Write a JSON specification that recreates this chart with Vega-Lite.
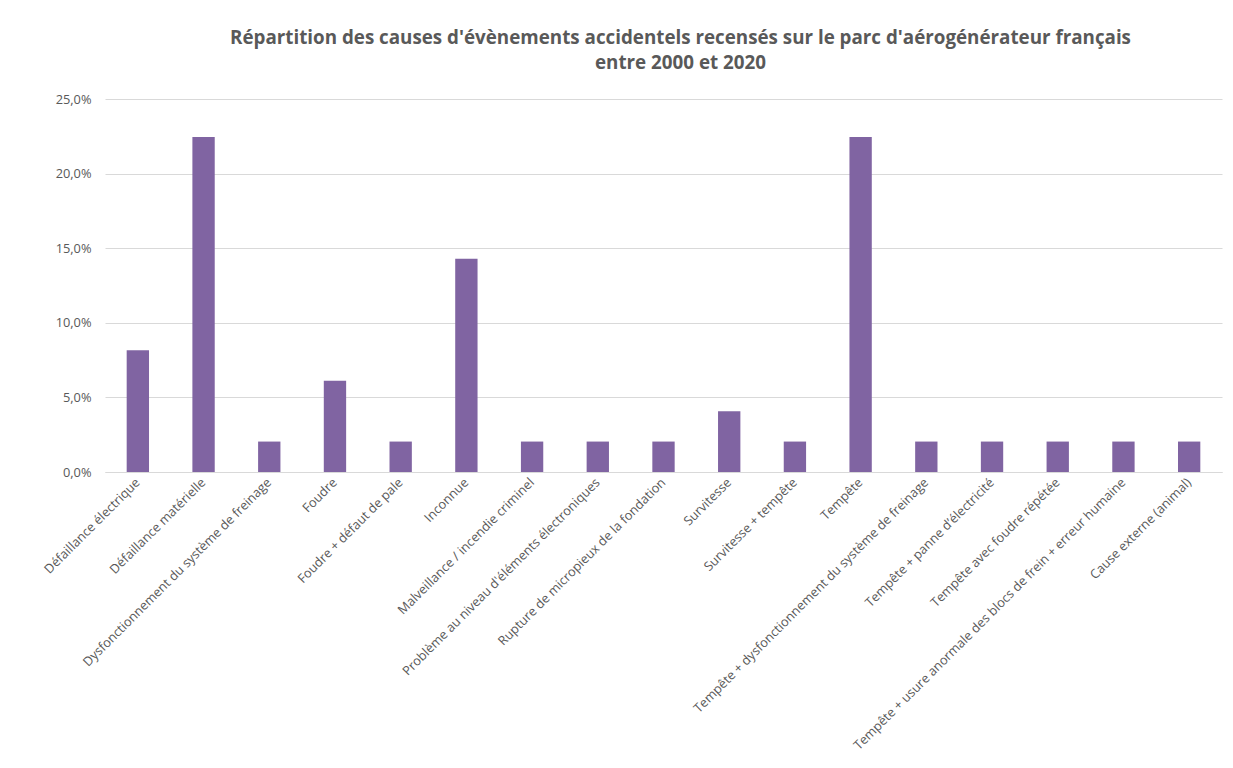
{
  "$schema": "https://vega.github.io/schema/vega-lite/v6.json",
  "autosize": {"type": "none"},
  "padding": {"left": 105, "top": 99, "right": 11, "bottom": 296},
  "width": 1117,
  "height": 373,
  "background": "white",
  "title": {
    "text": ["Répartition des causes d'évènements accidentels recensés sur le parc d'aérogénérateur français", "entre 2000 et 2020"],
    "font": "Open Sans",
    "fontSize": 18.8,
    "fontWeight": "bold",
    "color": "#595959",
    "lineHeight": 25,
    "anchor": "middle",
    "dx": 17,
    "offset": 20
  },
  "data": {
    "values": [
      {"cause": "Défaillance électrique", "part": 0.0816},
      {"cause": "Défaillance matérielle", "part": 0.2245},
      {"cause": "Dysfonctionnement du système de freinage", "part": 0.0204},
      {"cause": "Foudre", "part": 0.0612},
      {"cause": "Foudre + défaut de pale", "part": 0.0204},
      {"cause": "Inconnue", "part": 0.1429},
      {"cause": "Malveillance / incendie criminel", "part": 0.0204},
      {"cause": "Problème au niveau d'éléments électroniques", "part": 0.0204},
      {"cause": "Rupture de micropieux de la fondation", "part": 0.0204},
      {"cause": "Survitesse", "part": 0.0408},
      {"cause": "Survitesse + tempête", "part": 0.0204},
      {"cause": "Tempête", "part": 0.2245},
      {"cause": "Tempête + dysfonctionnement du système de freinage", "part": 0.0204},
      {"cause": "Tempête + panne d’électricité", "part": 0.0204},
      {"cause": "Tempête avec foudre répétée", "part": 0.0204},
      {"cause": "Tempête + usure anormale des blocs de frein + erreur humaine", "part": 0.0204},
      {"cause": "Cause externe (animal)", "part": 0.0204}
    ]
  },
  "mark": {"type": "bar", "color": "#8064A2"},
  "encoding": {
    "x": {
      "field": "cause",
      "type": "nominal",
      "sort": null,
      "scale": {"paddingInner": 0.66, "paddingOuter": 0.33},
      "axis": {
        "title": null,
        "labelAngle": -45,
        "labelAlign": "right",
        "labelBaseline": "middle",
        "labelPadding": 8,
        "labelFont": "Open Sans",
        "labelFontSize": 12.8,
        "labelColor": "#595959",
        "labelLimit": 0,
        "ticks": false,
        "domainColor": "#d9d9d9",
        "domainWidth": 1,
        "labelOverlap": false
      }
    },
    "y": {
      "field": "part",
      "type": "quantitative",
      "scale": {"domain": [0, 0.25]},
      "axis": {
        "title": null,
        "values": [0, 0.05, 0.1, 0.15, 0.2, 0.25],
        "labelExpr": "replace(format(datum.value, '.1%'), '.', ',')",
        "labelFont": "Open Sans",
        "labelFontSize": 12.8,
        "labelColor": "#595959",
        "labelPadding": 14,
        "ticks": false,
        "domain": false,
        "gridColor": "#d9d9d9",
        "gridWidth": 1
      }
    }
  },
  "config": {"view": {"stroke": null}}
}
